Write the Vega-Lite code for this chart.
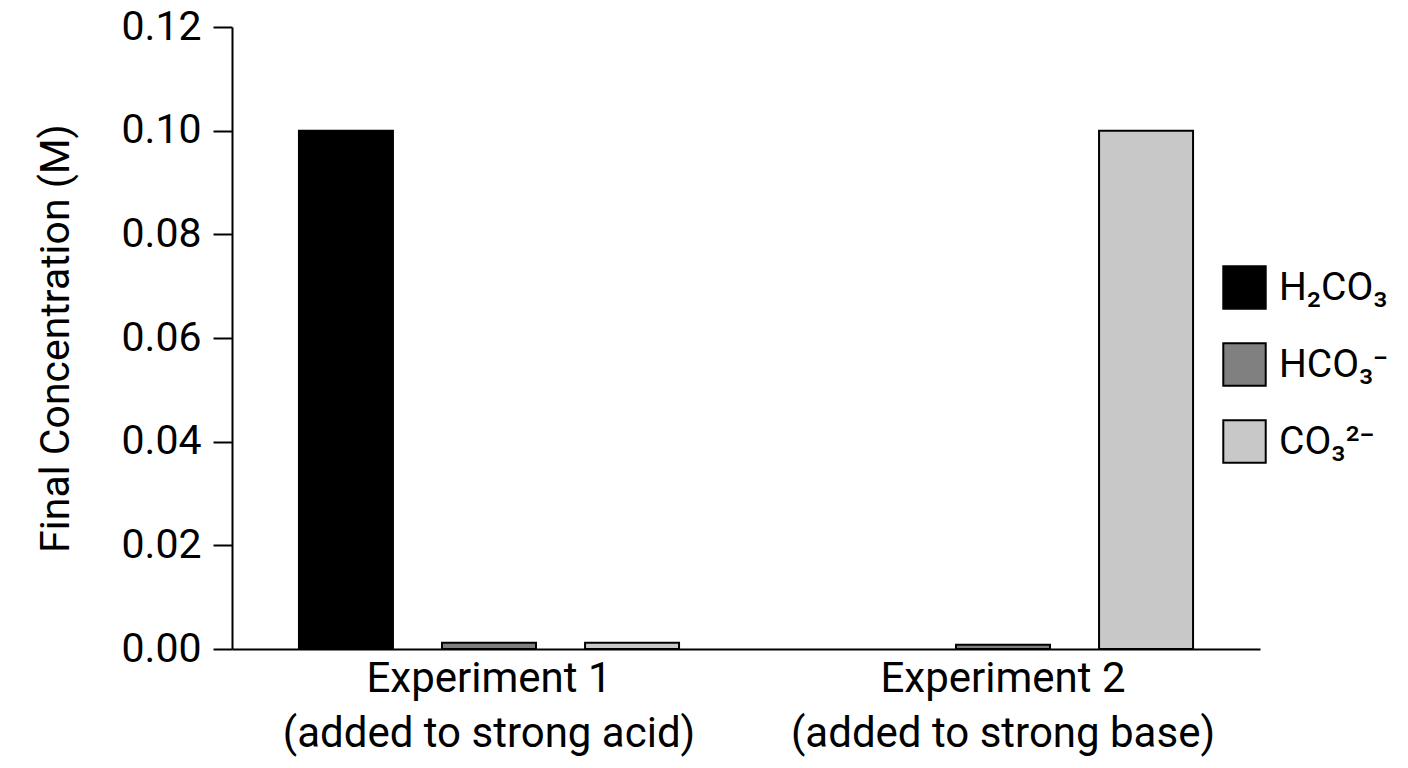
{
  "$schema": "https://vega.github.io/schema/vega-lite/v6.json",
  "autosize": "none",
  "width": 1028,
  "height": 622,
  "padding": {"left": 232, "top": 27, "right": 148, "bottom": 119},
  "background": "white",
  "config": {
    "font": "Roboto",
    "view": {"stroke": null}
  },
  "data": {
    "values": [
      {"experiment": "Experiment 1|(added to strong acid)", "species": "H₂CO₃", "conc": 0.1},
      {"experiment": "Experiment 1|(added to strong acid)", "species": "HCO₃⁻", "conc": 0.0012},
      {"experiment": "Experiment 1|(added to strong acid)", "species": "CO₃²⁻", "conc": 0.0012},
      {"experiment": "Experiment 2|(added to strong base)", "species": "HCO₃⁻", "conc": 0.0008},
      {"experiment": "Experiment 2|(added to strong base)", "species": "CO₃²⁻", "conc": 0.1}
    ]
  },
  "mark": {"type": "bar", "stroke": "black", "strokeWidth": 2},
  "encoding": {
    "x": {
      "field": "experiment",
      "type": "nominal",
      "scale": {"paddingInner": 0, "paddingOuter": 0},
      "axis": {
        "title": null,
        "labelAngle": 0,
        "labelExpr": "split(datum.value, '|')",
        "labelFontSize": 42,
        "labelColor": "black",
        "labelLineHeight": 55,
        "labelPadding": 9,
        "labelLimit": 0,
        "ticks": false,
        "domainColor": "black",
        "domainWidth": 2
      }
    },
    "xOffset": {
      "field": "species",
      "type": "nominal",
      "sort": ["H₂CO₃", "HCO₃⁻", "CO₃²⁻"],
      "scale": {"domain": ["H₂CO₃", "HCO₃⁻", "CO₃²⁻"], "paddingInner": 0.343, "paddingOuter": 0.468}
    },
    "y": {
      "field": "conc",
      "type": "quantitative",
      "scale": {"domain": [0, 0.12], "nice": false},
      "axis": {
        "title": "Final Concentration (M)",
        "titleFontSize": 41,
        "titleFontWeight": "normal",
        "titleColor": "black",
        "titlePadding": 44,
        "values": [0, 0.02, 0.04, 0.06, 0.08, 0.1, 0.12],
        "format": ".2f",
        "labelFontSize": 41,
        "labelColor": "black",
        "labelPadding": 12,
        "tickSize": 19,
        "tickColor": "black",
        "tickWidth": 2,
        "domainColor": "black",
        "domainWidth": 2,
        "grid": false
      }
    },
    "fill": {
      "field": "species",
      "type": "nominal",
      "scale": {"domain": ["H₂CO₃", "HCO₃⁻", "CO₃²⁻"], "range": ["#000000", "#808080", "#c8c8c8"]},
      "legend": {
        "title": null,
        "orient": "none",
        "legendX": 990,
        "legendY": 238,
        "symbolType": "square",
        "symbolSize": 1800,
        "symbolStrokeColor": "black",
        "symbolStrokeWidth": 2,
        "symbolOpacity": 1,
        "labelFontSize": 39,
        "labelColor": "black",
        "labelOffset": 12,
        "labelLimit": 0,
        "rowPadding": 26
      }
    }
  }
}
